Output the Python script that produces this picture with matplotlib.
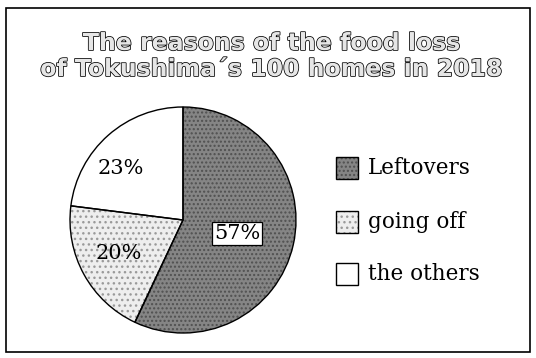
import matplotlib
matplotlib.use("Agg")
import matplotlib.pyplot as plt
import matplotlib.patheffects as pe
from matplotlib.patches import Rectangle

title_lines = ["The reasons of the food loss", "of Tokushima\u00b4s 100 homes in 2018"]
reasons = ["Leftovers", "going off", "the others"]
shares = [57, 20, 23]

face_colors = ["#858585", "#eeeeee", "#ffffff"]
hatches = ["....", "...", ""]
hatch_colors = ["#505050", "#9a9a9a", "#ffffff"]

W, H = 536, 358
fig = plt.figure(figsize=(W / 100, H / 100), dpi=100)

# outer frame
fig.patches.append(Rectangle((6 / W, 6 / H), 524 / W, 344 / H, transform=fig.transFigure,
                             fill=False, edgecolor="black", linewidth=1.2))

# title, outlined letters
for text, y in zip(title_lines, [50, 76]):
    fig.text(272 / W, 1 - y / H, text, ha="center", va="baseline",
             fontsize=17, fontweight="bold", family="DejaVu Sans",
             color="#e6e6e6",
             path_effects=[pe.Stroke(linewidth=1.1, foreground="black"), pe.Normal()])

# pie axes: center (183, 220) px, radius 113 px
cx, cy, r = 183, 220, 113
pad = 1.05
ax = fig.add_axes([(cx - r * pad) / W, (H - cy - r * pad) / H, 2 * r * pad / W, 2 * r * pad / H])

wedges, _ = ax.pie(shares, startangle=90, counterclock=False,
                   colors=face_colors, wedgeprops=dict(linewidth=0))
for w, h, hc in zip(wedges, hatches, hatch_colors):
    w.set_hatch(h)
    w.set_edgecolor(hc)
    w.set_linewidth(0)

# black outlines over the hatched wedges
outline, _ = ax.pie(shares, startangle=90, counterclock=False,
                    wedgeprops=dict(facecolor="none", edgecolor="black", linewidth=1.0))
ax.set_xlim(-pad, pad)
ax.set_ylim(-pad, pad)
ax.set_aspect("equal")
ax.axis("off")

label_pos = [(0.48, -0.12), (-0.57, -0.30), (-0.55, 0.46)]
for (x, y), v in zip(label_pos, shares):
    box = None
    if v == 57:
        box = dict(boxstyle="square,pad=0.08", facecolor="white", edgecolor="black", linewidth=0.9)
    ax.text(x, y, f"{v}%", ha="center", va="center", fontsize=15,
            family="DejaVu Serif", bbox=box)

# legend
leg_y = [168, 222, 274]
for w, label, y in zip(wedges, reasons, leg_y):
    sq = Rectangle((336 / W, 1 - (y + 11) / H), 22 / W, 22 / H, transform=fig.transFigure,
                   facecolor=w.get_facecolor(), hatch=w.get_hatch(),
                   edgecolor=w.get_edgecolor(), linewidth=0)
    fig.patches.append(sq)
    fig.patches.append(Rectangle((336 / W, 1 - (y + 11) / H), 22 / W, 22 / H,
                                 transform=fig.transFigure, fill=False,
                                 edgecolor="black", linewidth=1.0))
    fig.text(368 / W, 1 - y / H, label, ha="left", va="center", fontsize=15.5,
             family="DejaVu Serif")

fig.savefig("out.png", dpi=100)
